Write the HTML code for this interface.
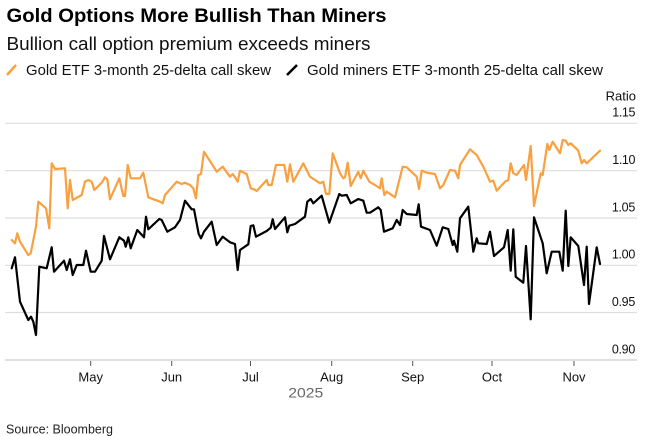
<!DOCTYPE html>
<html>
<head>
<meta charset="utf-8">
<style>
html,body{margin:0;padding:0;background:#fff;}
body{width:650px;height:436px;overflow:hidden;}
svg{display:block;font-family:"Liberation Sans",Arial,sans-serif;}
</style>
</head>
<body>
<svg width="650" height="436" viewBox="0 0 650 436" xmlns="http://www.w3.org/2000/svg">
  <!-- Title -->
  <text x="6.5" y="22" font-size="19.5" font-weight="bold" fill="#000" textLength="380" lengthAdjust="spacingAndGlyphs">Gold Options More Bullish Than Miners</text>
  <text x="6.5" y="50" font-size="18" fill="#111" textLength="364" lengthAdjust="spacingAndGlyphs">Bullion call option premium exceeds miners</text>
  <!-- Legend -->
  <line x1="7" y1="75" x2="16" y2="65" stroke="#f9a03f" stroke-width="2.5"/>
  <text x="26" y="75" font-size="15" fill="#111" textLength="245" lengthAdjust="spacingAndGlyphs">Gold ETF 3-month 25-delta call skew</text>
  <line x1="287" y1="75" x2="297" y2="65" stroke="#000" stroke-width="2.5"/>
  <text x="307" y="75" font-size="15" fill="#111" textLength="296" lengthAdjust="spacingAndGlyphs">Gold miners ETF 3-month 25-delta call skew</text>

  <!-- Axis unit -->
  <text x="636" y="100.5" font-size="13" fill="#111" text-anchor="end">Ratio</text>

  <!-- Gridlines -->
  <g stroke="#dedede" stroke-width="1.2">
    <line x1="5" y1="123.3" x2="637" y2="123.3"/>
    <line x1="5" y1="170.7" x2="637" y2="170.7"/>
    <line x1="5" y1="218" x2="637" y2="218"/>
    <line x1="5" y1="265.3" x2="637" y2="265.3"/>
    <line x1="5" y1="312.5" x2="637" y2="312.5"/>
  </g>
  <line x1="5" y1="360" x2="637" y2="360" stroke="#d6d6d6" stroke-width="1.5"/>

  <!-- Y labels -->
  <g font-size="12.5" fill="#111" text-anchor="end">
    <text x="635" y="116.6" letter-spacing="-0.4">1.15</text>
    <text x="635" y="164" letter-spacing="-0.4">1.10</text>
    <text x="635" y="211.3" letter-spacing="-0.3">1.05</text>
    <text x="635" y="258.6" letter-spacing="-0.3">1.00</text>
    <text x="635" y="305.8" letter-spacing="-0.3">0.95</text>
    <text x="635" y="353.3" letter-spacing="-0.3">0.90</text>
  </g>

  <!-- X ticks -->
  <g stroke="#555" stroke-width="1">
    <line x1="90.7" y1="361" x2="90.7" y2="366"/>
    <line x1="171.7" y1="361" x2="171.7" y2="366"/>
    <line x1="250.5" y1="361" x2="250.5" y2="366"/>
    <line x1="331.7" y1="361" x2="331.7" y2="366"/>
    <line x1="412.7" y1="361" x2="412.7" y2="366"/>
    <line x1="492" y1="361" x2="492" y2="366"/>
    <line x1="574" y1="361" x2="574" y2="366"/>
  </g>
  <g font-size="13" fill="#111" text-anchor="middle">
    <text x="90.7" y="381.3">May</text>
    <text x="171.7" y="381.3">Jun</text>
    <text x="250.5" y="381.3">Jul</text>
    <text x="331.7" y="381.3">Aug</text>
    <text x="412.7" y="381.3">Sep</text>
    <text x="492" y="381.3">Oct</text>
    <text x="574" y="381.3">Nov</text>
  </g>
  <text x="305.8" y="397.5" font-size="14" fill="#666" text-anchor="middle" textLength="35" lengthAdjust="spacingAndGlyphs">2025</text>

  <!-- Source -->
  <text x="6" y="433.3" font-size="12.5" fill="#222" textLength="107" lengthAdjust="spacingAndGlyphs">Source: Bloomberg</text>

  <!-- Gold ETF series (orange) -->
  <polyline fill="none" stroke="#f9a03f" stroke-width="2.2" stroke-linejoin="round" stroke-linecap="round" points="11.7,240 15,243.3 17.3,233.3 20,241.7 28.3,255 30.7,253.3 36,226.7 38.3,201.7 46,208.3 49.3,228.3 51.7,163.3 55,169 65,168.3 67.7,208.3 70,180 72.7,200 81.7,195 85,181.7 88.3,180 91.7,181.7 94.3,190 101.7,182.7 105,177.3 107.3,179.3 110,199.3 119.3,178.3 123.3,196 125,196 127.7,165 130.7,178.3 140,178.3 143.3,172.7 148.3,197.3 160,201.7 162.7,203.3 165,195 176.7,181.7 181.7,184 185,182.7 190,185 193.3,188.3 196,198.3 198.3,175 201,174 204,151.7 216.7,171.7 222.7,166.7 230,176.7 232.7,174 235,177.3 237.7,181.7 240,170.7 246.7,174 250.7,188.3 254,189.3 256.7,191 266.7,180 268.3,185 271.7,185 276,165 284.3,165 287.3,181.7 290,164.3 293.3,181.7 303.3,163.3 310,176.7 315,180 320,183.3 323.3,181.7 326,194 329.3,194 332.7,153.3 340,173.3 343.3,178.3 345,177.3 347.7,162.7 350.7,186 358.3,171.7 360.7,178.3 363.3,170.7 369.3,181.7 375,185 380,188.3 381.7,178.3 384.3,195 386.7,191.7 395,197.3 402.7,166.7 406.7,167.3 416.7,176.7 419,189 421.7,170.7 426.7,172.7 435,174 440,188.3 443.3,185 450,170 455,170.7 458.3,178.3 460,165 470,149.3 476.7,155 483.3,166.7 490,181.7 493.3,180.7 496.7,190.7 505,181.7 508.3,180 510.7,163.3 513.3,173.3 516.7,175 524,165 526,180 530.7,146 534,206 540.7,173.3 542.7,175 547.3,144 549.3,150 552.7,141.7 560,153.3 562.7,140 565.7,140.7 568.3,145 570.7,143.3 578.3,150.7 581.7,163.3 584,160 586.7,163.3 600,150.7"/>

  <!-- Gold miners series (black) -->
  <polyline fill="none" stroke="#000" stroke-width="2.2" stroke-linejoin="round" stroke-linecap="round" points="11.7,268.3 15,257.3 20,301.7 28.3,320 31,316.7 33.3,321.7 36,335 39.3,266.7 46.7,268.3 51.7,247.3 54,271.7 64,260.7 66.7,270 70,259.3 72.7,275 76.7,265 83.3,265 86,250.7 90.7,271.7 95,271.7 101.7,260.7 104,236 110,259.3 119.3,237.3 124,240.7 125.7,246.7 128.3,237.3 130.7,248.3 137.3,230 144,237.3 146,216.7 148.3,229.3 159.3,219 161.7,220 167.3,231.7 175,227.3 180,220 185,200.7 191.7,209.3 194,209.3 198.7,234 201,238.3 204,231.7 211.7,221.7 216.7,245 222.7,236.7 230,242.3 235,244 237.7,270 240,250 248.3,244.3 250.7,226 253.3,225.3 256,236.7 266.7,231 270.7,227.7 272.7,219.3 275,229 285,217.3 287.3,232.3 289.3,225.7 295,224 305,216.7 307.3,201.7 310.7,199 313.3,203.3 321.7,195.7 329.3,222.7 339.3,194 341.7,195.7 346.7,195 350.7,203.3 358.3,199 363.3,200.7 366.7,212.7 370,212.7 378.3,207.3 380.7,210 384,231.7 392.7,228.3 396.7,220 400,225 402.7,210 406.7,214 416.7,215 418.7,204.3 421,226.7 430,230 436.7,245.7 442.7,227.3 448.3,229 452.7,245 454,240.7 457.3,251.7 460,218.3 468.3,206.7 473.3,251.7 476.7,238.3 478.3,243.3 486.7,244 490,231.7 494,256 504,247.3 507.7,230 510.7,270.7 513.3,229.3 515.7,276.7 523.3,282.7 526,246 530.7,319.3 534,217.3 542.7,243.3 546.7,273.3 551.7,251.7 559.3,251.7 562.7,270.7 565.7,210.7 568.3,266 570.7,237.3 578.3,246 584,285 586.7,246.7 589,304 596.7,247.3 600,264"/>
</svg>
</body>
</html>
